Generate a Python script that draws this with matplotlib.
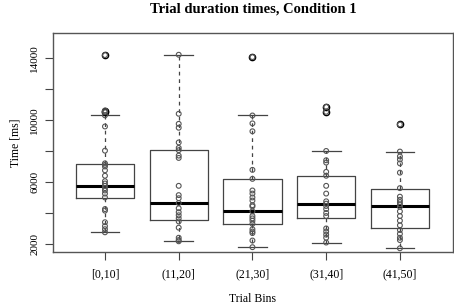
import matplotlib
matplotlib.use("Agg")
import matplotlib.pyplot as plt

plt.rcParams["font.family"] = ["Liberation Serif", "DejaVu Serif"]

bins = ["[0,10]", "(11,20]", "(21,30]", "(31,40]", "(41,50]"]

# box statistics
q1 = [4980, 3540, 3310, 3670, 3010]
med = [5750, 4640, 4100, 4550, 4420]
q3 = [7180, 8080, 6180, 6390, 5560]
whislo = [2750, 2170, 1790, 2090, 1720]
whishi = [10310, 14210, 10290, 8000, 7960]
outliers = [
    [14190, 10610, 10510],
    [],
    [14060],
    [10850, 10530],
    [9710],
]

# individual trial times (strip chart)
times = [
    [14190, 10610, 10510, 10300, 9580, 8020, 7200, 7100, 7000, 6750, 6400, 6050,
     5900, 5750, 5600, 5450, 5250, 5000, 4250, 4150, 3400, 3150, 2950, 2750],
    [14210, 10400, 9750, 9500, 8550, 8200, 8050, 7700, 7550, 5750, 5150, 4950,
     4640, 4300, 4050, 3850, 3650, 3450, 3050, 2400, 2250, 2170],
    [14060, 10290, 9780, 9270, 6780, 6200, 5450, 5250, 5000, 4800, 4500, 4420,
     4100, 3800, 3650, 3500, 3300, 2950, 2800, 2700, 2220, 1790],
    [10850, 10530, 8000, 7400, 7250, 6650, 6400, 5750, 5250, 4750, 4600, 4450,
     4250, 4000, 3800, 3000, 2800, 2600, 2400, 2090],
    [9710, 7960, 7650, 7450, 7200, 6600, 5600, 5050, 4850, 4700, 4550, 4400,
     4100, 3800, 3500, 3200, 2900, 2650, 2400, 2250, 1720],
]

stats = []
for i in range(len(bins)):
    stats.append({"q1": q1[i], "med": med[i], "q3": q3[i],
                  "whislo": whislo[i], "whishi": whishi[i],
                  "fliers": outliers[i], "label": bins[i]})

fig = plt.figure(figsize=(4.54, 3.06), dpi=100)
ax = fig.add_axes([0.1167, 0.1765, 0.8811, 0.7155])

pos = range(1, len(bins) + 1)
ax.bxp(stats, positions=pos, widths=0.79, showfliers=True,
       boxprops=dict(color="#444444", linewidth=0.9),
       medianprops=dict(color="black", linewidth=2.2),
       whiskerprops=dict(color="#444444", linewidth=0.9, linestyle=(0, (3, 3))),
       capprops=dict(color="#444444", linewidth=0.9),
       capwidths=0.39,
       flierprops=dict(marker="o", markerfacecolor="none", markeredgecolor="black",
                       markersize=4.5, markeredgewidth=1.0, linestyle="none"))

for i, vals in enumerate(times):
    ax.scatter([i + 1] * len(vals), vals, s=12, facecolors="none",
               edgecolors="#555555", linewidths=0.8, zorder=3)

ax.set_xlim(0.295, 5.72)
ax.set_ylim(1480, 15610)
ax.set_yticks([2000, 4000, 6000, 8000, 10000, 12000, 14000])
ax.set_yticklabels(["2000", "", "6000", "", "10000", "", "14000"],
                   rotation=90, va="center", fontsize=8)
ax.set_xticks(list(pos))
ax.set_xticklabels(bins, fontsize=8.5)
ax.tick_params(axis="both", length=6, width=0.8, color="#444444", pad=4)
ax.tick_params(axis="x", pad=6)
for sp in ax.spines.values():
    sp.set_color("#555555")
    sp.set_linewidth(1.0)

ax.set_title("Trial duration times, Condition 1", fontsize=10.5,
             fontweight="bold", pad=15)
ax.set_xlabel("Trial Bins", fontsize=8.5, labelpad=9)
ax.set_ylabel("Time [ms]", fontsize=8.5, labelpad=6)

fig.savefig("out.png", dpi=100)
